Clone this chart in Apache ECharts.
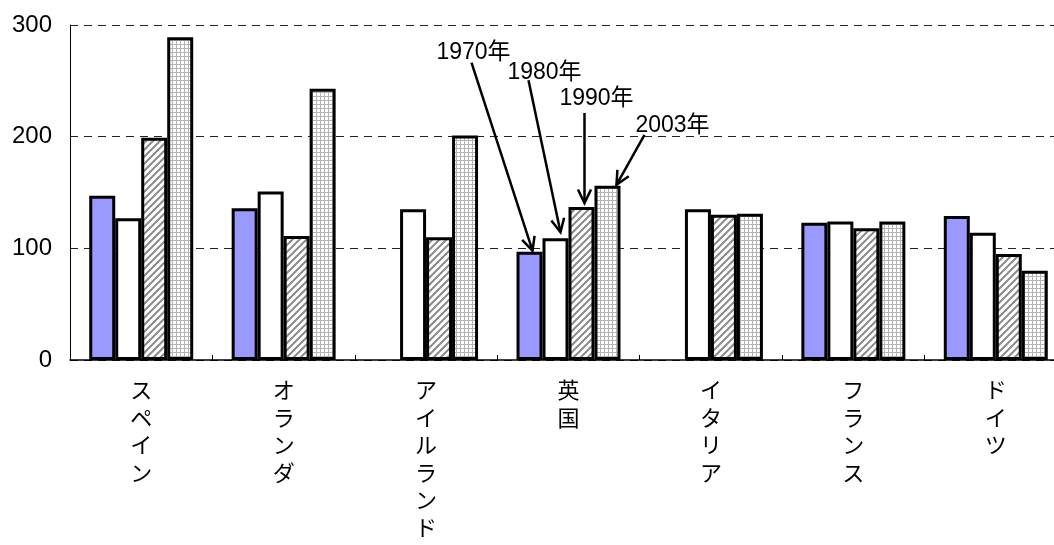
<!DOCTYPE html>
<html>
<head>
<meta charset="utf-8">
<script src="https://cdn.jsdelivr.net/npm/echarts@6/dist/echarts.min.js"></script>
<style>
  html, body { margin: 0; padding: 0; background: #fff; }
  #main { width: 1054px; height: 545px; }
</style>
</head>
<body>
<div id="main"></div>
<script>
// 国別データ
const countries = ['スペイン', 'オランダ', 'アイルランド', '英国', 'イタリア', 'フランス', 'ドイツ'];
const years = ['1970年', '1980年', '1990年', '2003年'];
const v1970 = [147, 136, null, 97, null, 123, 129];
const v1980 = [127, 151, 135, 109, 135, 124, 114];
const v1990 = [199, 111, 110, 137, 130, 118, 95];
const v2003 = [289, 243, 201, 156, 131, 124, 80];
const yTicks = [0, 100, 200, 300];

const FONT = "'Liberation Sans', Arial, 'Noto Sans CJK JP', sans-serif";

// 斜線パターン
function hatchPattern() {
    const s = 7;
    const c = document.createElement('canvas');
    c.width = s; c.height = s;
    const g = c.getContext('2d');
    g.fillStyle = '#fff';
    g.fillRect(0, 0, s, s);
    g.strokeStyle = '#8c8c8c';
    g.lineWidth = 2;
    g.beginPath();
    g.moveTo(-1, s + 1); g.lineTo(s + 1, -1);
    g.moveTo(-1, 1); g.lineTo(1, -1);
    g.moveTo(s - 1, s + 1); g.lineTo(s + 1, s - 1);
    g.stroke();
    return { image: c, repeat: 'repeat' };
}
// 格子パターン
function gridPattern() {
    const c = document.createElement('canvas');
    c.width = 4; c.height = 4;
    const g = c.getContext('2d');
    g.fillStyle = '#fff';
    g.fillRect(0, 0, 4, 4);
    g.fillStyle = '#b4b4b4';
    g.fillRect(0, 0, 4, 1);
    g.fillRect(0, 0, 1, 4);
    return { image: c, repeat: 'repeat' };
}

const fills = ['#9999ff', '#ffffff', hatchPattern(), gridPattern()];
const seriesData = [v1970, v1980, v1990, v2003];

let chart = echarts.init(document.getElementById('main'));
chart.setOption({
    animation: false,
    grid: { left: 70, top: 25, bottom: 185, right: -13, outerBoundsMode: 'none', containLabel: false },
    xAxis: {
        type: 'category',
        data: countries,
        axisLine: { lineStyle: { color: '#000', width: 1.5 } },
        axisTick: { show: true, inside: true, length: 5, lineStyle: { color: '#000' } },
        axisLabel: {
            interval: 0,
            margin: 16,
            color: '#000',
            fontSize: 22,
            lineHeight: 27.5,
            fontFamily: "'Noto Sans CJK JP', sans-serif",
            verticalAlign: 'top',
            formatter: function (v) { return v.split('').join('\n'); }
        }
    },
    yAxis: {
        type: 'value',
        min: 0,
        max: 300,
        interval: 100,
        axisLine: { show: true, lineStyle: { color: '#000', width: 1 } },
        axisTick: { show: false },
        axisLabel: {
            color: '#000',
            fontSize: 24,
            fontFamily: FONT,
            margin: 18,
            formatter: function (v) { return yTicks.indexOf(v) >= 0 ? String(v) : ''; }
        },
        splitLine: { lineStyle: { color: '#222', type: [8, 6], width: 1 } }
    },
    series: seriesData.map(function (d, i) {
        return {
            name: years[i],
            type: 'bar',
            data: d,
            barGap: 0,
            barCategoryGap: '27%',
            itemStyle: { color: fills[i], borderColor: '#000', borderWidth: 3 }
        };
    })
});

// 注記(英国の棒に矢印)
const ukIdx = countries.indexOf('英国');
const tipOff = [[3, -1], [5, -6], [3, -4], [9, -1]];
const startOff = [[-61, -188], [-32, -152], [0, -90], [28, -50]];
const textOff = [[-59, -198], [-16, -160], [12, -104], [56, -59]];
const graphics = [];
for (let i = 0; i < 4; i++) {
    const lay = chart.getModel().getSeriesByIndex(i).getData().getItemLayout(ukIdx);
    const bx = lay.x + lay.width / 2;
    const by = Math.min(lay.y, lay.y + lay.height);
    const tx = bx + tipOff[i][0], ty = by + tipOff[i][1];
    const sx = tx + startOff[i][0], sy = ty + startOff[i][1];
    const ang = Math.atan2(ty - sy, tx - sx);
    const L = 15, a = 0.45;
    graphics.push({
        type: 'line',
        shape: { x1: sx, y1: sy, x2: tx, y2: ty },
        style: { stroke: '#000', lineWidth: 2.5 }
    });
    graphics.push({
        type: 'polyline',
        shape: { points: [
            [tx - L * Math.cos(ang - a), ty - L * Math.sin(ang - a)],
            [tx, ty],
            [tx - L * Math.cos(ang + a), ty - L * Math.sin(ang + a)]
        ] },
        style: { stroke: '#000', lineWidth: 2.5, fill: null }
    });
    graphics.push({
        type: 'text',
        x: tx + textOff[i][0],
        y: ty + textOff[i][1],
        style: {
            text: years[i],
            fill: '#000',
            font: '23px ' + FONT,
            align: 'center',
            verticalAlign: 'middle'
        }
    });
}
chart.setOption({ graphic: graphics });
window.addEventListener('resize', function () { chart.resize(); });
</script>
</body>
</html>
